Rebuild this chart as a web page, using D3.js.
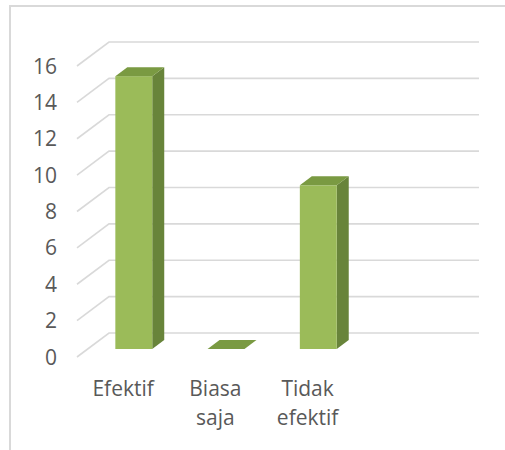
<!DOCTYPE html>
<html><head><meta charset="utf-8">
<script src="https://cdn.jsdelivr.net/npm/d3@7"></script>
<style>body{margin:0;background:#fff;overflow:hidden} svg{display:block}</style>
</head><body>
<script>
// ---- data ----
const categories = ["Efektif", "Biasa saja", "Tidak efektif", ""];
const values = [15, 0, 9, null];
const yTicks = [0, 2, 4, 6, 8, 10, 12, 14, 16];

// ---- layout ----
const W = 505, H = 450;
const DX = 32, DY = 24;          // floor depth (back wall is up-right of front plane)
const tF = 8 / 24, tB = 17 / 24;  // bar front/back depth fraction measured from front plane

const svg = d3.select("body").append("svg").attr("width", W).attr("height", H);

// chart border (cropped at right/bottom)
svg.append("path")
  .attr("d", `M10,${H} L10,6 L${W},6`)
  .attr("fill", "none").attr("stroke", "#d9d9d9").attr("stroke-width", 2);

// y scale on the back wall
const y = d3.scaleLinear().domain([0, 16]).range([333, 42]);
// category scale on the front plane
const x = d3.scaleBand().domain(categories).range([77, 446]).paddingInner(0).paddingOuter(0);
const xb = d3.scaleBand().domain(categories).range([77, 446]).paddingInner(0.6).paddingOuter(0.3);

const backL = x.range()[0] + DX, backR = 479;

// gridlines
const grid = svg.append("g").attr("fill", "none").attr("stroke", "#d9d9d9").attr("stroke-width", 1.6);
yTicks.forEach(t => {
  grid.append("path")
    .attr("d", `M${x.range()[0]},${y(t) + DY} L${backL},${y(t)} L${backR},${y(t)}`);
});

// y tick labels
svg.append("g").selectAll("text").data(yTicks).join("text")
  .attr("x", 57).attr("y", d => y(d) + DY)
  .attr("dy", "0.36em")
  .attr("text-anchor", "end")
  .attr("font-family", "'Open Sans', sans-serif").attr("font-size", 21)
  .attr("fill", "#595959")
  .text(d => d);

// bars
const w = xb.bandwidth();
const d = (tB - tF) * DX, dd = (tB - tF) * DY;
const bars = svg.append("g");
categories.forEach((c, i) => {
  const v = values[i];
  if (v === null || v === undefined) return;
  const x0 = xb(c) + tF * DX;
  const top = y(v) + DY - tF * DY;
  const bot = y(0) + DY - tF * DY;
  const g = bars.append("g");
  if (top < bot - 0.5) {
    g.append("polygon").attr("fill", "#68843a")
      .attr("points", [[x0 + w, top], [x0 + w + d, top - dd], [x0 + w + d, bot - dd], [x0 + w, bot]].join(" "));
    g.append("rect").attr("fill", "#9bbb59")
      .attr("x", x0).attr("y", top).attr("width", w).attr("height", bot - top);
  }
  g.append("polygon").attr("fill", "#7a9a42")
    .attr("points", [[x0, top], [x0 + d, top - dd], [x0 + w + d, top - dd], [x0 + w, top]].join(" "));
});

// category labels
const lab = svg.append("g")
  .attr("font-family", "'Open Sans', sans-serif").attr("font-size", 21)
  .attr("fill", "#595959").attr("text-anchor", "middle");
categories.forEach(c => {
  if (!c) return;
  const t = lab.append("text").attr("x", x(c) + x.bandwidth() / 2).attr("y", 396);
  c.split(" ").forEach((word, k) => {
    t.append("tspan").attr("x", x(c) + x.bandwidth() / 2).attr("dy", k === 0 ? 0 : 29).text(word);
  });
});
</script>
</body></html>
